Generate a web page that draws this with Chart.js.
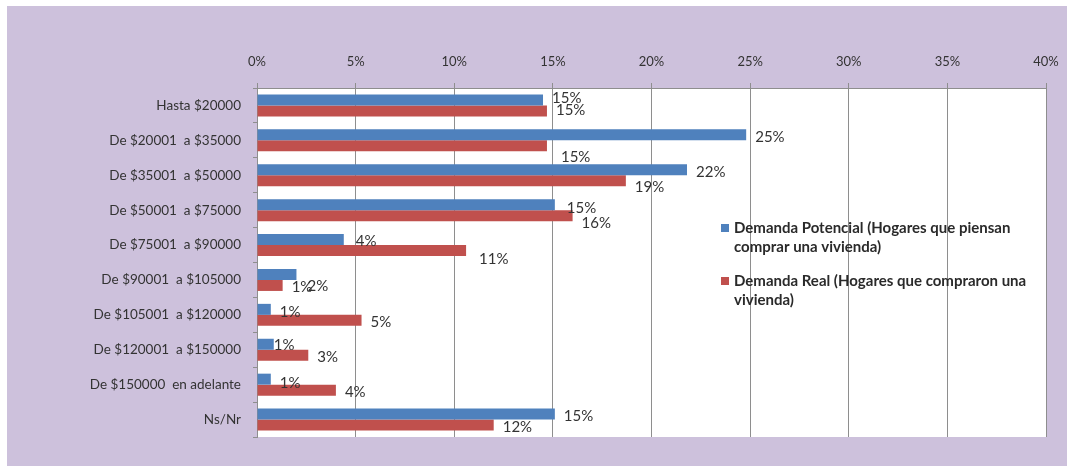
<!DOCTYPE html>
<html>
<head>
<meta charset="utf-8">
<script src="https://cdn.jsdelivr.net/npm/chart.js@4.4.1/dist/chart.umd.min.js"></script>
<style>
  html, body { margin: 0; padding: 0; background: #ffffff; }
  #frame { position: absolute; left: 7px; top: 6px; width: 1060px; height: 460px; background: #cdc1dc; }
  #chart { position: absolute; left: 0; top: 0; }
</style>
</head>
<body>
<div id="frame"></div>
<canvas id="chart" width="1067" height="466"></canvas>
<script>
// Income brackets (household monthly income)
const categories = [
  'Hasta $20000',
  'De $20001  a $35000',
  'De $35001  a $50000',
  'De $50001  a $75000',
  'De $75001  a $90000',
  'De $90001  a $105000',
  'De $105001  a $120000',
  'De $120001  a $150000',
  'De $150000  en adelante',
  'Ns/Nr'
];

// Share of households per bracket, in percent
const demandaPotencial = [14.5, 24.8, 21.8, 15.1, 4.4, 2.0, 0.7, 0.85, 0.7, 15.1];
const demandaReal      = [14.7, 14.7, 18.7, 16.0, 10.6, 1.3, 5.3, 2.6, 4.0, 12.0];

const seriesNames = [
  'Demanda Potencial (Hogares que piensan\ncomprar una vivienda)',
  'Demanda Real (Hogares que compraron una\nvivienda)'
];

// Axis ticks: 0% .. 40% every 5%
const tickMin = 0, tickMax = 40, tickStep = 5;

const FONT = 'Lato, "Open Sans", sans-serif';
const TEXT = '#333333';
const GRID = '#8e8e8e';

// White plot area
const plotBackground = {
  id: 'plotBackground',
  beforeDraw(chart) {
    const { ctx, chartArea: a } = chart;
    ctx.save();
    ctx.fillStyle = '#ffffff';
    ctx.fillRect(a.left, a.top, a.right - a.left, a.bottom - a.top);
    ctx.restore();
  }
};

// Percentage labels next to each bar end, with small hand nudges
const barLabels = {
  id: 'barLabels',
  afterDatasetsDraw(chart, args, opts) {
    const { ctx } = chart;
    ctx.save();
    ctx.font = opts.font;
    ctx.fillStyle = opts.color;
    ctx.textAlign = 'left';
    ctx.textBaseline = 'middle';
    chart.data.datasets.forEach((ds, di) => {
      const meta = chart.getDatasetMeta(di);
      meta.data.forEach((bar, i) => {
        const n = (opts.nudges[di] && opts.nudges[di][i]) || [0, 0];
        const txt = Math.round(ds.data[i]) + '%';
        ctx.fillText(txt, bar.x + opts.gap + n[0], bar.y + opts.dy + n[1]);
      });
    });
    ctx.restore();
  }
};

// Legend drawn inside the plot area, with wrapped series names
const sideLegend = {
  id: 'sideLegend',
  afterDraw(chart, args, opts) {
    const { ctx } = chart;
    ctx.save();
    ctx.font = opts.font;
    ctx.textBaseline = 'middle';
    ctx.textAlign = 'left';
    let y = opts.y;
    chart.data.datasets.forEach((ds) => {
      const lines = ds.label.split('\n');
      ctx.fillStyle = ds.backgroundColor;
      ctx.fillRect(opts.x, y - opts.box / 2, opts.box, opts.box);
      ctx.fillStyle = opts.color;
      lines.forEach((ln, k) => {
        ctx.fillText(ln, opts.x + opts.box + opts.textGap, y + k * opts.lineHeight);
      });
      y += lines.length * opts.lineHeight + opts.itemGap;
    });
    ctx.restore();
  }
};

new Chart(document.getElementById('chart'), {
  type: 'bar',
  data: {
    labels: categories,
    datasets: [
      { label: seriesNames[0], data: demandaPotencial, backgroundColor: '#4f81bd' },
      { label: seriesNames[1], data: demandaReal, backgroundColor: '#c0504d' }
    ]
  },
  options: {
    indexAxis: 'y',
    responsive: false,
    animation: false,
    devicePixelRatio: 1,
    categoryPercentage: 0.63,
    barPercentage: 1.0,
    layout: { padding: { left: 0, top: 0, right: 21, bottom: 29 } },
    scales: {
      x: {
        position: 'top',
        min: tickMin,
        max: tickMax,
        ticks: {
          stepSize: tickStep,
          callback: (v) => v + '%',
          font: { family: FONT, size: 13 },
          color: TEXT,
          padding: 13
        },
        grid: { color: GRID, lineWidth: 1, tickLength: 5, drawTicks: true },
        border: { display: true, color: GRID },
        afterFit(scale) {
          scale.height = 88;
          scale.paddingLeft = 0;
          scale.paddingRight = 0;
        }
      },
      y: {
        ticks: {
          font: { family: FONT, size: 13.5 },
          color: TEXT,
          padding: 12,
          autoSkip: false
        },
        grid: { offset: true, drawOnChartArea: false, drawTicks: true, tickLength: 4, color: GRID },
        border: { display: true, color: GRID },
        afterFit(scale) { scale.width = 257; }
      }
    },
    plugins: {
      legend: { display: false },
      tooltip: { enabled: false },
      barLabels: {
        font: '15px ' + FONT,
        color: TEXT,
        gap: 9,
        dy: 2,
        nudges: [
          [[0, -4], [0, 0], [0, 0], [3, 2], [3, 0], [2, 10], [0, 1], [-9, -1], [0, 2], [0, 0]],
          [[0, -3], [5, 9], [0, 4], [0, 6], [4, 7], [0, 0], [0, 0], [0, 0], [0, 0], [0, 0]]
        ]
      },
      sideLegend: {
        font: 'bold 15px ' + FONT,
        color: '#2a2a2a',
        x: 721,
        y: 228,
        box: 8,
        textGap: 5,
        lineHeight: 19,
        itemGap: 15
      }
    }
  },
  plugins: [plotBackground, barLabels, sideLegend]
});
</script>
</body>
</html>
